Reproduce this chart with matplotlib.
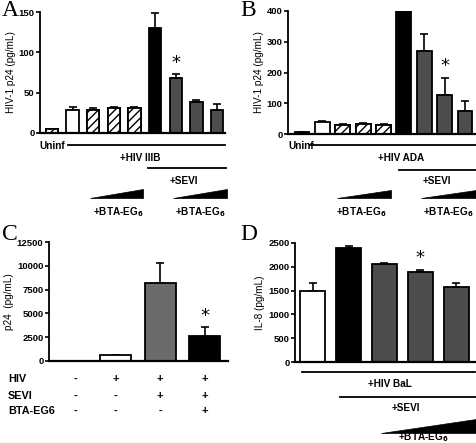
import matplotlib.pyplot as plt
import numpy as np
from matplotlib.patches import Polygon
from matplotlib.transforms import blended_transform_factory

plt.rcParams['font.family'] = ['Liberation Sans', 'DejaVu Sans']
plt.rcParams['font.weight'] = 'bold'
plt.rcParams['hatch.linewidth'] = 1.0

W, H = 477, 443

# ---------- data ----------
a_vals = [5, 28, 28, 31, 31, 130, 68, 38, 28]
a_errs = [0, 4, 3.5, 1.5, 1.5, 19, 5, 3, 8]
a_face = ['white', 'white', 'white', 'white', 'white', 'black', '#4d4d4d', '#4d4d4d', '#4d4d4d']
a_hatch = ['////', None, '////', '////', '////', None, None, None, None]

b_vals = [5, 40, 28, 32, 30, 400, 270, 128, 75]
b_errs = [0, 2, 3, 3, 3, 0, 55, 55, 32]
b_face = ['black', 'white', 'white', 'white', 'white', 'black', '#4d4d4d', '#4d4d4d', '#4d4d4d']
b_hatch = [None, None, '////', '////', '////', None, None, None, None]

c_vals = [30, 600, 8150, 2600]
c_errs = [0, 50, 2150, 950]
c_face = ['white', 'white', '#6b6b6b', 'black']
c_rows = ['HIV', 'SEVI', 'BTA-EG6']
c_signs = [['-', '+', '+', '+'],
           ['-', '-', '+', '+'],
           ['-', '-', '-', '+']]

d_vals = [1500, 2400, 2060, 1900, 1580]
d_errs = [150, 30, 20, 40, 90]
d_face = ['white', 'black', '#4d4d4d', '#4d4d4d', '#4d4d4d']


def fy(py):
    """pixel y (from top) -> figure fraction"""
    return 1 - py / H


def panel(fig, box, vals, errs, faces, hatches, width, xlim, ylim, yticks, ylabel):
    l, r, t, b = box
    ax = fig.add_axes([l / W, fy(b), (r - l) / W, (b - t) / H])
    x = np.arange(len(vals))
    ax.bar(x, vals, width=width, color=faces, edgecolor='black', linewidth=1.3,
           hatch=None, zorder=2)
    for xi, v, h in zip(x, vals, hatches):
        if h:
            ax.bar(xi, v, width=width, color='white', edgecolor='black',
                   linewidth=1.3, hatch=h, zorder=2)
    errs = np.array(errs)
    ax.errorbar(x, vals, yerr=[np.zeros_like(errs), errs], fmt='none',
                ecolor='black', elinewidth=1.2, capsize=3, capthick=1.2, zorder=1)
    ax.set_xlim(*xlim)
    ax.set_ylim(*ylim)
    ax.set_yticks(yticks)
    ax.set_xticks([])
    ax.set_ylabel(ylabel, fontsize=7.2, labelpad=2)
    for s in ['top', 'right']:
        ax.spines[s].set_visible(False)
    ax.spines['left'].set_linewidth(1.3)
    ax.spines['bottom'].set_linewidth(1.6)
    ax.tick_params(axis='y', labelsize=6.8, width=1.2, length=3, pad=1)
    return ax


def hline(fig, ax, x0, x1, py, lw=1.3):
    tr = blended_transform_factory(ax.transData, fig.transFigure)
    ax.plot([x0, x1], [fy(py), fy(py)], color='black', lw=lw, transform=tr, clip_on=False)


def label(fig, ax, xd, py, s, ha='center', fs=7.2):
    tr = blended_transform_factory(ax.transData, fig.transFigure)
    ax.text(xd, fy(py), s, ha=ha, va='center', fontsize=fs, fontweight='bold',
            transform=tr, clip_on=False)


def wedge(fig, ax, x0, x1, py_top, py_bot):
    tr = blended_transform_factory(ax.transData, fig.transFigure)
    p = Polygon([[x0, fy(py_bot)], [x1, fy(py_bot)], [x1, fy(py_top)]],
                closed=True, facecolor='black', edgecolor='black', lw=0.5,
                transform=tr, clip_on=False)
    ax.add_patch(p)


def star(fig, ax, xd, yd):
    ax.text(xd, yd, '*', ha='center', va='bottom', fontsize=13,
            family='DejaVu Sans', fontweight='normal', clip_on=False)


def letter(fig, px, py, s):
    fig.text(px / W, fy(py), s, fontsize=17, family='Liberation Serif',
             fontweight='normal', ha='left', va='center')


fig = plt.figure(figsize=(W / 100, H / 100), dpi=100)

# ---------- A ----------
axA = panel(fig, (40, 225, 12, 133), a_vals, a_errs, a_face, a_hatch, 0.6,
            (-0.58, 8.39), (0, 150), [0, 50, 100, 150], 'HIV-1 p24 (pg/mL)')
star(fig, axA, 6, a_vals[6] + a_errs[6] + 3)
label(fig, axA, -0.62, 146, 'Uninf', ha='left')
hline(fig, axA, 0.8, 8.39, 145)
label(fig, axA, 4.3, 158, '+HIV IIIB')
hline(fig, axA, 4.65, 8.45, 168)
label(fig, axA, 6.4, 181, '+SEVI')
wedge(fig, axA, 1.85, 4.4, 189, 198)
wedge(fig, axA, 5.85, 8.5, 189, 198)
label(fig, axA, 3.2, 212, '+BTA-EG$_\\mathbf{6}$')
label(fig, axA, 7.2, 212, '+BTA-EG$_\\mathbf{6}$')
letter(fig, 2, 10, 'A')

# ---------- B ----------
axB = panel(fig, (288, 476, 11, 134), b_vals, b_errs, b_face, b_hatch, 0.73,
            (-0.69, 8.54), (0, 400), [0, 100, 200, 300, 400], 'HIV-1 p24 (pg/mL)')
star(fig, axB, 7, b_vals[7] + b_errs[7] + 8)
label(fig, axB, -0.68, 146, 'Uninf', ha='left')
hline(fig, axB, 0.4, 8.54, 145)
label(fig, axB, 4.85, 158, '+HIV ADA')
hline(fig, axB, 4.75, 8.6, 170)
label(fig, axB, 6.6, 181, '+SEVI')
wedge(fig, axB, 1.7, 4.35, 190, 198)
wedge(fig, axB, 5.85, 8.55, 190, 198)
label(fig, axB, 2.9, 212, '+BTA-EG$_\\mathbf{6}$')
label(fig, axB, 7.2, 212, '+BTA-EG$_\\mathbf{6}$')
letter(fig, 240, 10, 'B')

# ---------- C ----------
axC = panel(fig, (49, 228, 242, 361), c_vals, c_errs, c_face, [None] * 4, 0.7,
            (-0.49, 3.52), (0, 12500), [0, 2500, 5000, 7500, 10000, 12500], 'p24  (pg/mL)')
star(fig, axC, 3, c_vals[3] + c_errs[3] + 250)
for row, py in zip(c_rows, [379, 396, 411]):
    fig.text(8 / W, fy(py), row, fontsize=7.8, fontweight='bold', ha='left', va='center')
for signs, py in zip(c_signs, [379, 396, 411]):
    for j, s in enumerate(signs):
        label(fig, axC, j + 0.1 if j == 0 else j, py, s, fs=8)
letter(fig, 2, 235, 'C')

# ---------- D ----------
axD = panel(fig, (295, 475, 243, 362), d_vals, d_errs, d_face, [None] * 5, 0.7,
            (-0.5, 4.53), (0, 2500), [0, 500, 1000, 1500, 2000, 2500], 'IL-8 (pg/mL)')
star(fig, axD, 3, d_vals[3] + d_errs[3] + 60)
hline(fig, axD, -0.3, 4.53, 372)
label(fig, axD, 2.15, 384, '+HIV BaL')
hline(fig, axD, 0.75, 4.58, 397)
label(fig, axD, 2.6, 408, '+SEVI')
wedge(fig, axD, 1.9, 4.55, 419, 433)
label(fig, axD, 3.1, 437, '+BTA-EG$_\\mathbf{6}$')
letter(fig, 240, 235, 'D')

fig.savefig('out.png', dpi=100)
